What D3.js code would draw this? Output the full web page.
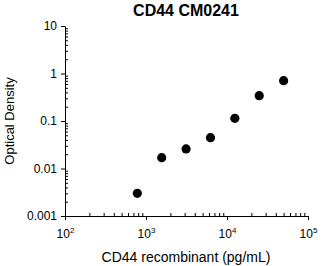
<!DOCTYPE html>
<html><head><meta charset="utf-8">
<script src="https://cdn.jsdelivr.net/npm/d3@7"></script>
<style>body{margin:0;background:#fff;} text{font-family:"Liberation Sans",Arial,sans-serif;}</style>
</head><body>
<svg id="c" width="324" height="266"></svg>
<script>
const concentrations = [781.25, 1562.5, 3125, 6250, 12500, 25000, 50000];
const densities = [0.0030, 0.0169, 0.0258, 0.0445, 0.114, 0.341, 0.705];
const xMajorTicks = [100, 1000, 10000, 100000];
const xTickExponents = ["2", "3", "4", "5"];
const yMajorTicks = [0.001, 0.01, 0.1, 1, 10];
const yTickLabels = ["0.001", "0.01", "0.1", "1", "10"];
const title = "CD44 CM0241";
const xTitle = "CD44 recombinant (pg/mL)";
const yTitle = "Optical Density";

const svg = d3.select("#c");
const x = d3.scaleLog().domain([100, 100000]).range([65, 308]);
const y = d3.scaleLog().domain([0.001, 10]).range([216, 26]);

function minors(lo, hi){
  const out=[];
  for(let e=Math.log10(lo); e<Math.log10(hi); e++){
    for(let m=2;m<=9;m++) out.push(m*Math.pow(10,e));
  }
  return out;
}

// minor ticks (inside)
svg.append("g").attr("transform","translate(0,216)")
  .call(d3.axisBottom(x).tickValues(minors(100,100000)).tickSize(-3).tickFormat(""))
  .call(g=>g.select(".domain").remove());
svg.append("g").attr("transform","translate(65,0)")
  .call(d3.axisLeft(y).tickValues(minors(0.001,10)).tickSize(-3).tickFormat(""))
  .call(g=>g.select(".domain").remove());

// major axes
const xa = svg.append("g").attr("transform","translate(0,216)")
  .call(d3.axisBottom(x).tickValues(xMajorTicks).tickSize(4).tickSizeOuter(0).tickFormat(""));
xa.selectAll(".tick").append("text")
  .attr("y", 22).attr("fill","#000").attr("text-anchor","middle")
  .style("font-size","12px")
  .each(function(d,i){
    const t=d3.select(this);
    t.append("tspan").text("10");
    t.append("tspan").attr("dy",-5).style("font-size","8px").text(xTickExponents[i]);
  });
const ya = svg.append("g").attr("transform","translate(65,0)")
  .call(d3.axisLeft(y).tickValues(yMajorTicks).tickSize(4).tickSizeOuter(0).tickFormat((d,i)=>yTickLabels[i]));
ya.selectAll(".tick text").style("font-size","12px").attr("x",-8);
svg.selectAll(".domain, .tick line").attr("stroke","#000");

// points
svg.append("g").selectAll("circle").data(concentrations).join("circle")
  .attr("cx",(d)=>x(d)).attr("cy",(d,i)=>y(densities[i])).attr("r",4.6).attr("fill","#000");

// titles
svg.append("text").attr("x",186).attr("y",16).attr("text-anchor","middle")
  .style("font-size","16px").style("font-weight","bold").text(title);
svg.append("text").attr("x",186).attr("y",262).attr("text-anchor","middle")
  .style("font-size","14px").text(xTitle);
svg.append("text").attr("transform","translate(14,121) rotate(-90)").attr("text-anchor","middle")
  .style("font-size","13px").text(yTitle);
</script>
</body></html>
